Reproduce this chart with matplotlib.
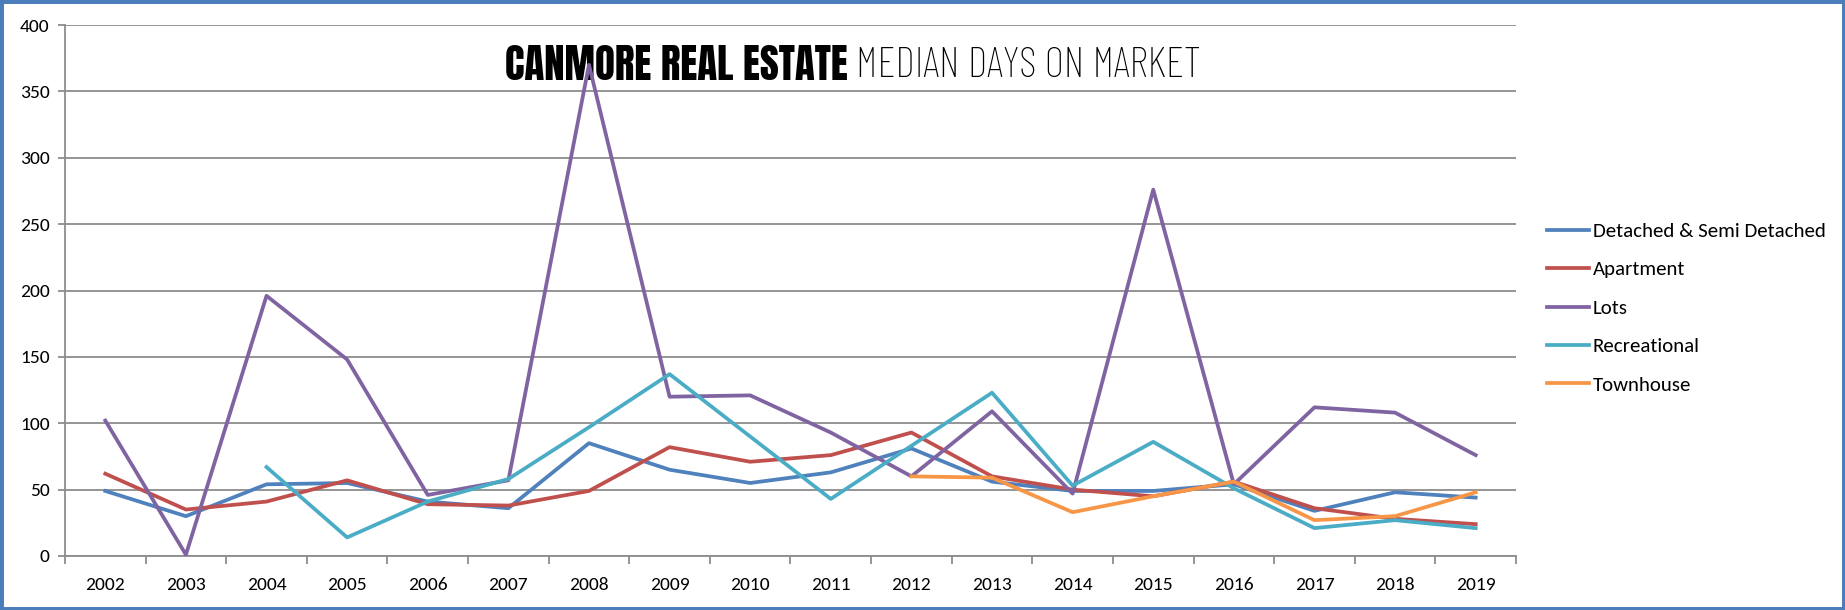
import numpy as np
import matplotlib
matplotlib.use("Agg")
import matplotlib.pyplot as plt
from matplotlib.patches import Rectangle

# 數據
years = ["2002", "2003", "2004", "2005", "2006", "2007", "2008", "2009", "2010",
         "2011", "2012", "2013", "2014", "2015", "2016", "2017", "2018", "2019"]
detached = [49, 30, 54, 55, 41, 36, 85, 65, 55, 63, 81, 56, 49, 49, 54, 34, 48, 44]
apartment = [62, 35, 41, 57, 39, 38, 49, 82, 71, 76, 93, 60, 50, 45, 56, 36, 28, 24]
lots = [102, 1, 196, 148, 46, 57, 370, 120, 121, 93, 60, 109, 47, 276, 54, 112, 108, 76]
recreational = [None, None, 67, 14, 41, 58, 97, 137, 90, 43, 83, 123, 53, 86, 51, 21, 27, 21]
townhouse = [None] * 10 + [60, 59, 33, 45, 56, 27, 30, 48]

series = [
    ("Detached & Semi Detached", detached, "#4F81BD"),
    ("Apartment", apartment, "#C0504D"),
    ("Lots", lots, "#8064A2"),
    ("Recreational", recreational, "#4BACC6"),
    ("Townhouse", townhouse, "#F79646"),
]

plt.rcParams["font.family"] = ["Carlito", "Open Sans", "DejaVu Sans"]
bold_family = ["Anton", "Bebas Neue", "Barlow Condensed", "DejaVu Sans"]
light_family = ["Barlow Condensed", "Fira Sans Condensed", "DejaVu Sans"]

W, H = 1845, 610
fig = plt.figure(figsize=(W / 100, H / 100), dpi=100)
ax = fig.add_axes([65 / W, 1 - 556 / H, (1516 - 65) / W, (556 - 25) / H])

x = np.arange(len(years))
for name, vals, color in series:
    y = np.array([np.nan if v is None else v for v in vals], dtype=float)
    ax.plot(x, y, color=color, linewidth=2.7, label=name, zorder=3)

ax.set_xlim(-0.5, len(years) - 0.5)
ax.set_ylim(0, 400)
ax.set_yticks(np.arange(0, 401, 50))
ax.set_xticks(x)
ax.set_xticklabels(years)
ax.set_xticks(np.arange(-0.5, len(years), 1.0), minor=True)

ax.grid(axis="y", color="#8C8C8C", linewidth=1.3, zorder=0)
ax.set_axisbelow(True)
for s in ("top", "right"):
    ax.spines[s].set_visible(False)
for s in ("left", "bottom"):
    ax.spines[s].set_color("#8C8C8C")
    ax.spines[s].set_linewidth(1.3)

ax.tick_params(axis="x", which="major", length=0, pad=15, labelsize=14)
ax.tick_params(axis="x", which="minor", length=6, width=1.3, color="#8C8C8C")
ax.tick_params(axis="y", length=5, width=1.3, color="#8C8C8C", pad=6, labelsize=14)

# 標題（放在線條下方）
ty = 1 - 62 / H
ax.text(848 / W, ty, "CANMORE REAL ESTATE", transform=fig.transFigure,
        ha="right", va="center_baseline", fontsize=29.5,
        family=bold_family, zorder=1)
ax.text(856 / W, ty, "MEDIAN DAYS ON MARKET", transform=fig.transFigure,
        ha="left", va="center_baseline", fontsize=30.5, fontweight="light",
        family=light_family, zorder=1)

fig.legend(loc="center left", bbox_to_anchor=(1547 / W, 1 - 308 / H),
           frameon=False, fontsize=15, handlelength=2.0, handletextpad=0.2,
           labelspacing=1.0, borderpad=0, borderaxespad=0)

# 外框
fig.patches.append(Rectangle((0, 0), 1, 1, transform=fig.transFigure,
                             fill=False, edgecolor="#4A7EBB", linewidth=5,
                             zorder=10))

fig.savefig("out.png", dpi=100)
